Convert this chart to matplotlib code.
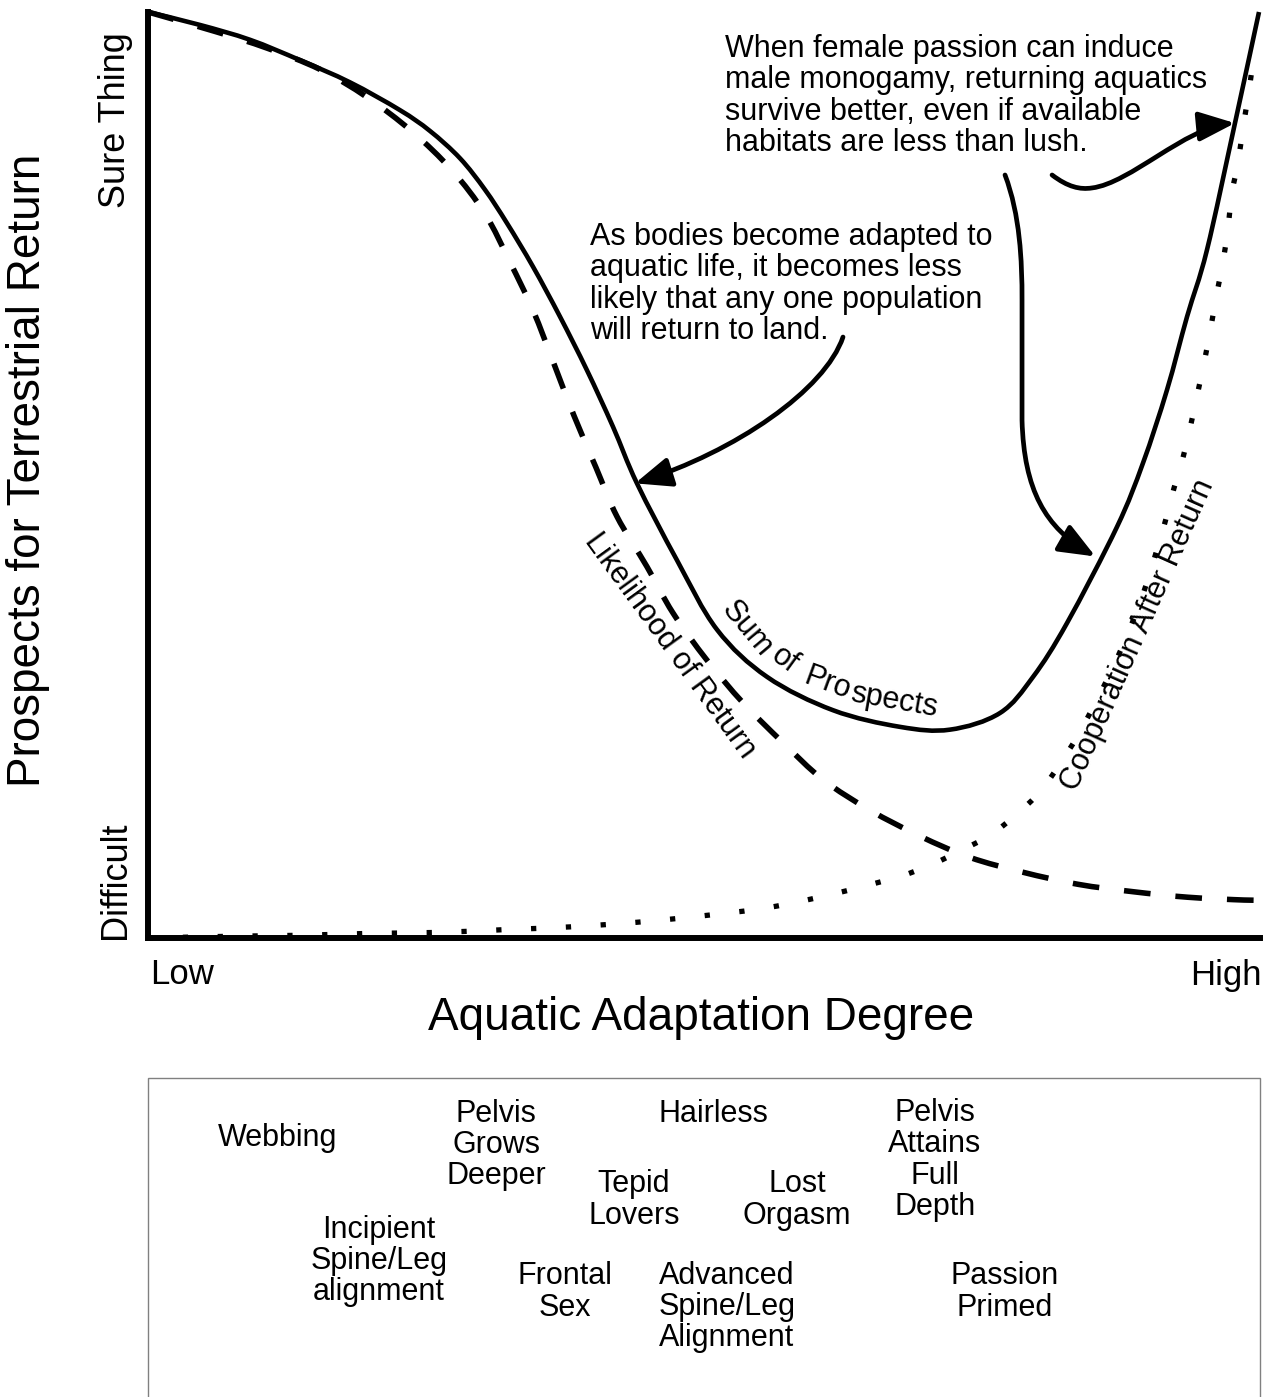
import matplotlib
matplotlib.use("Agg")
import numpy as np
import matplotlib.pyplot as plt
from matplotlib.patches import FancyArrowPatch, Rectangle, PathPatch
from matplotlib.path import Path

plt.rcParams['font.family'] = ['Liberation Sans', 'DejaVu Sans']

# ------------------------------------------------------------
# data: x = aquatic adaptation (0 low .. 100 high)
#       y = prospects for terrestrial return (0 difficult .. 100 sure thing)
# ------------------------------------------------------------
sum_x = [0, 4.68, 9.17, 13.67, 18.17, 22.66, 25.36, 28.06, 30.31, 32.28, 34.62, 37.05,
         39.48, 41.82, 43.97, 47.57, 51.17, 55.67, 61.60, 67.63, 72.12, 76.62,
         79.59, 82.64, 87.14, 89.48, 91.64, 93.44, 95.23, 97.75, 99.91]
sum_y = [100, 98.6, 97.0, 94.8, 92.4, 89.4, 87.15, 84.2, 80.8, 77.2, 72.5, 67.1,
         61.3, 55.2, 49.1, 40.8, 33.3, 28.2, 24.6, 22.8, 22.5, 24.3,
         28.2, 34.0, 44.4, 51.3, 59.2, 67.1, 74.3, 88.0, 100]

likelihood_x = [0, 6.03, 10.70, 15.47, 19.69, 23.74, 27.34, 30.31, 32.55, 34.62,
                36.51, 38.31, 40.29, 42.18, 44.87, 47.21, 50.27, 53.51, 57.10,
                60.70, 64.93, 69.42, 73.92, 78.69, 83.63, 88.58, 93.53, 98.56, 100]
likelihood_y = [100, 97.9, 96.1, 93.8, 90.8, 87.1, 82.9, 78.2, 73.0, 67.8,
                62.0, 56.4, 50.8, 45.5, 40.1, 35.1, 30.0, 25.4, 21.1,
                17.1, 13.8, 11.0, 8.7, 7.1, 5.8, 5.0, 4.4, 4.1, 4.1]

coop_x = [0, 8.0, 14.03, 19.96, 25.99, 32.01, 37.95, 43.97, 49.91, 55.85, 61.78,
          67.45, 70.41, 73.02, 75.72, 78.06, 80.22, 82.01, 83.54, 84.98, 86.33,
          87.59, 88.76, 89.75, 90.65, 91.46, 92.27, 93.08, 93.79, 94.42, 95.05,
          95.59, 96.13, 96.67, 97.12, 97.48, 98.02, 98.47, 98.92, 99.37]
coop_y = [0, 0.2, 0.3, 0.5, 0.6, 0.9, 1.2, 1.7, 2.4, 3.3, 4.8,
          6.6, 7.9, 9.4, 11.1, 13.3, 15.8, 18.8, 21.7, 24.9, 28.1,
          31.4, 34.8, 38.1, 41.6, 44.9, 48.6, 51.9, 55.5, 59.0, 62.6,
          66.0, 69.7, 73.0, 76.7, 80.5, 83.7, 87.5, 90.8, 94.6]

stage_labels = ["Webbing", "Pelvis\nGrows\nDeeper", "Hairless",
                "Pelvis\nAttains\nFull\nDepth", "Tepid\nLovers", "Lost\nOrgasm",
                "Incipient\nSpine/Leg\nalignment", "Frontal\nSex",
                "Advanced\nSpine/Leg\nAlignment", "Passion\nPrimed"]

note_monogamy = ("When female passion can induce\nmale monogamy, returning aquatics\n"
                 "survive better, even if available\nhabitats are less than lush.")
note_bodies = ("As bodies become adapted to\naquatic life, it becomes less\n"
               "likely that any one population\nwill return to land.")

# ------------------------------------------------------------
# layout (reference pixel positions)
# ------------------------------------------------------------
W, H = 1275, 1397


def fx(px):
    return px / W


def fy(py):
    return 1 - py / H


def smooth_path(xs, ys):
    """Catmull-Rom curve through the read points, drawn as cubic beziers."""
    pts = np.column_stack([xs, ys]).astype(float)
    verts = [pts[0]]
    codes = [Path.MOVETO]
    n = len(pts)
    for i in range(n - 1):
        p0 = pts[i - 1] if i > 0 else pts[i]
        p1, p2 = pts[i], pts[i + 1]
        p3 = pts[i + 2] if i + 2 < n else p2
        verts += [p1 + (p2 - p0) / 6, p2 - (p3 - p1) / 6, p2]
        codes += [Path.CURVE4] * 3
    return Path(verts, codes)


stage_pos = [(278, 1138), (496, 1145), (713, 1114), (935, 1160), (634, 1200),
             (797, 1200), (379, 1261), (565, 1292), (727, 1307), (1005, 1292)]

FS = 22

fig = plt.figure(figsize=(W / 100, H / 100), dpi=100)
ax = fig.add_axes([fx(148), fy(938), fx(1260) - fx(148), fy(12) - fy(938)])
ax.set_xlim(0, 100)
ax.set_ylim(0, 100)
ax.set_xticks([])
ax.set_yticks([])
for s in ['top', 'right']:
    ax.spines[s].set_visible(False)
for s in ['left', 'bottom']:
    ax.spines[s].set_linewidth(4.3)
    ax.spines[s].set_capstyle('projecting')

# curves
ax.add_patch(PathPatch(smooth_path(coop_x, coop_y), fill=False, edgecolor='black',
                       lw=3.8, linestyle=(0, (1, 5.6)), clip_on=False, zorder=2))
ax.add_patch(PathPatch(smooth_path(likelihood_x, likelihood_y), fill=False,
                       edgecolor='black', lw=4.0, linestyle=(0, (4.8, 4.5)),
                       clip_on=False, zorder=3))
ax.add_patch(PathPatch(smooth_path(sum_x, sum_y), fill=False, edgecolor='black',
                       lw=3.3, clip_on=False, zorder=4))

# curve labels
ax.text(46.9, 31.6, "Likelihood of Return", fontsize=FS, rotation=-54,
        rotation_mode='anchor', ha='center', va='center')
ax.text(89.0, 32.7, "Cooperation After Return", fontsize=FS, rotation=66,
        rotation_mode='anchor', ha='center', va='center')
for word, x, y, rot in [("Sum", 53.9, 33.4, -50), ("of", 57.3, 30.0, -36),
                        ("Pro", 61.1, 27.5, -20), ("spects", 67.1, 25.6, -10)]:
    ax.text(x, y, word, fontsize=FS, rotation=rot, rotation_mode='anchor',
            ha='center', va='center')

# annotations
ax.text(51.9, 97.6, note_monogamy, fontsize=FS, ha='left', va='top', linespacing=1.05)
ax.text(39.75, 77.3, note_bodies, fontsize=FS, ha='left', va='top', linespacing=1.05)

arrow_kw = dict(arrowstyle='-|>,head_length=22,head_width=9', color='black',
                lw=3.4, mutation_scale=1, clip_on=False, zorder=5)

p1 = Path([(62.5, 64.9), (60.9, 59.2), (52.8, 52.5), (43.8, 49.1)],
          [Path.MOVETO, Path.CURVE4, Path.CURVE4, Path.CURVE4])
p2 = Path([(77.07, 82.4), (78.42, 78.1), (78.6, 73.2), (78.6, 68.9), (78.6, 55.9),
           (78.78, 48.4), (80.67, 44.3), (85.2, 41.2)],
          [Path.MOVETO, Path.CURVE4, Path.CURVE4, Path.CURVE4, Path.LINETO,
           Path.CURVE4, Path.CURVE4, Path.CURVE4])
p3 = Path([(81.3, 82.4), (82.73, 81.1), (83.81, 80.8), (84.89, 81.0),
           (88.31, 81.5), (93.26, 87.5), (97.75, 88.0)],
          [Path.MOVETO, Path.CURVE4, Path.CURVE4, Path.CURVE4,
           Path.CURVE4, Path.CURVE4, Path.CURVE4])
for p in (p1, p2, p3):
    ax.add_patch(FancyArrowPatch(path=p, **arrow_kw))

# axis texts
fig.text(fx(28), fy(470), "Prospects for Terrestrial Return", fontsize=33,
         rotation=90, ha='center', va='center')
fig.text(fx(116), fy(120), "Sure Thing", fontsize=26, rotation=90, ha='center', va='center')
fig.text(fx(115), fy(880), "Difficult", fontsize=26, rotation=90, ha='center', va='center')
fig.text(fx(182), fy(975), "Low", fontsize=25, ha='center', va='center')
fig.text(fx(1226), fy(975), "High", fontsize=25, ha='center', va='center')
fig.text(fx(701), fy(1018), "Aquatic Adaptation Degree", fontsize=33,
         ha='center', va='center')

# stage box
fig.patches.append(Rectangle((fx(148), -0.05), fx(1260) - fx(148), fy(1078) + 0.05,
                             transform=fig.transFigure, fill=False,
                             edgecolor='#808080', lw=1.0))
for label, (px, py) in zip(stage_labels, stage_pos):
    fig.text(fx(px), fy(py), label, fontsize=FS, ha='center', va='center',
             multialignment='center', linespacing=1.05)

fig.savefig("out.png", dpi=100)
